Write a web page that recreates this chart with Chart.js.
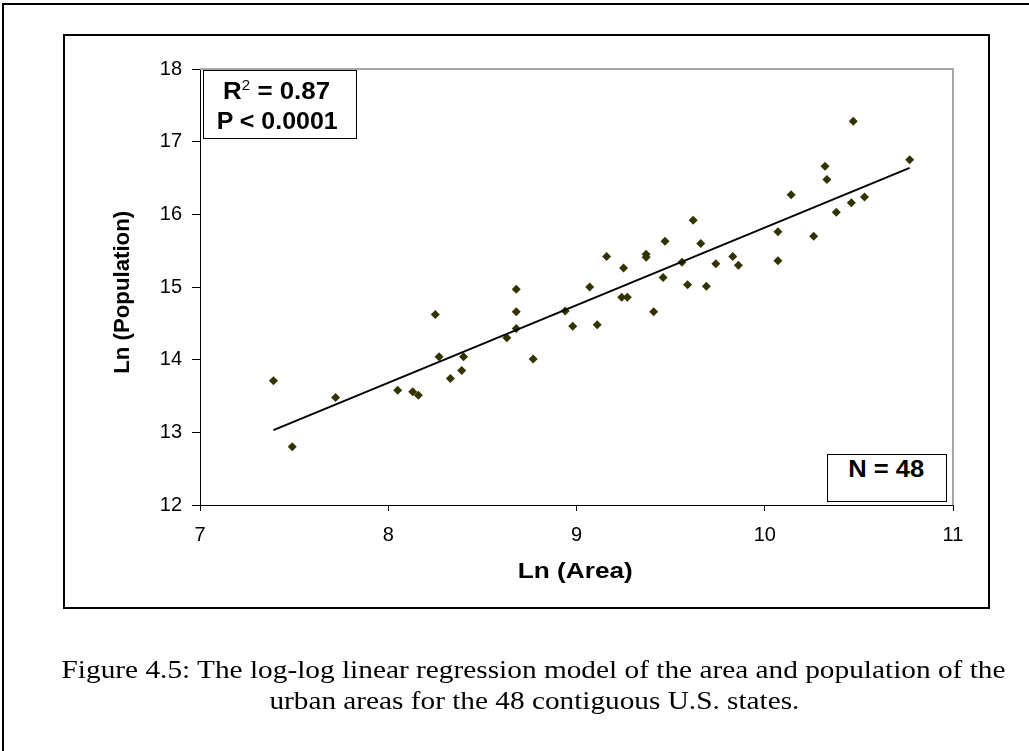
<!DOCTYPE html>
<html>
<head>
<meta charset="utf-8">
<script src="https://cdn.jsdelivr.net/npm/chart.js@4.4.0/dist/chart.umd.min.js"></script>
<style>
  html, body { margin: 0; padding: 0; background: #fff; width: 1029px; height: 751px; overflow: hidden; }
  #page { position: relative; width: 1029px; height: 751px; }
  #outer { position: absolute; left: 2px; top: 3px; width: 1100px; height: 800px; border: 2px solid #000; box-sizing: border-box; }
  #frame { position: absolute; left: 63px; top: 34px; width: 927px; height: 575px; border: 2px solid #000; box-sizing: border-box; }
  canvas { position: absolute; left: 0; top: 0; }
  .lbl { position: absolute; width: 700px; text-align: center; white-space: nowrap; color: #000; }
  .lbl span { display: inline-block; transform-origin: 50% 50%; }
  .sans { font-family: "Liberation Sans", Arial, sans-serif; font-weight: bold; }
  .serif { font-family: "Liberation Serif", "Times New Roman", serif; font-size: 26px; line-height: 26px; }
  .box { position: absolute; background: #fff; border: 1px solid #000; box-sizing: border-box; }
  sup { font-size: 14px; font-weight: normal; vertical-align: 0; position: relative; top: -9px; }
</style>
</head>
<body>
<div id="page">
  <div id="outer"></div>
  <div id="frame"></div>
  <canvas id="chart" width="1029" height="751"></canvas>

  <div class="box" style="left:203px; top:70px; width:154px; height:69px;"></div>
  <div class="box" style="left:827px; top:454px; width:120px; height:48px;"></div>

  <div class="lbl sans" data-cx="277" data-w="107" style="top:79px; font-size:24px; line-height:24px;"><span>R<sup>2</sup> = 0.87</span></div>
  <div class="lbl sans" data-cx="277.5" data-w="121" style="top:109px; font-size:24px; line-height:24px;"><span>P &lt; 0.0001</span></div>
  <div class="lbl sans" data-cx="886" data-w="76" style="top:458px; font-size:23px; line-height:23px;"><span>N = 48</span></div>

  <div class="lbl sans" data-cx="575.5" data-w="115" style="top:560px; font-size:22px; line-height:22px;"><span>Ln (Area)</span></div>
  <div class="lbl sans" data-cx="122" data-w="163" data-rot="1" style="top:281px; font-size:22px; line-height:22px;"><span>Ln (Population)</span></div>

  <div class="lbl serif" data-cx="534" data-w="944" style="top:657px; width:1000px;"><span>Figure 4.5: The log-log linear regression model of the area and population of the</span></div>
  <div class="lbl serif" data-cx="534" data-w="530" style="top:688px; width:1000px;"><span>urban areas for the 48 contiguous U.S. states.</span></div>
</div>

<script>
// ln(area) and ln(population) of the urban areas, one pair per state
const areaLn = [
  7.39, 7.49, 7.72, 8.05, 8.13, 8.16, 8.25, 8.27, 8.33, 8.39,
  8.40, 8.63, 8.68, 8.68, 8.68, 8.77, 8.94, 8.98, 9.07, 9.11,
  9.16, 9.24, 9.25, 9.27, 9.37, 9.37, 9.41, 9.46, 9.47, 9.56,
  9.59, 9.62, 9.66, 9.69, 9.74, 9.83, 9.86, 10.07, 10.07, 10.14,
  10.26, 10.32, 10.33, 10.38, 10.46, 10.47, 10.53, 10.77
];
const popLn = [
  13.71, 12.80, 13.48, 13.58, 13.56, 13.51, 14.62, 14.04, 13.74, 13.85,
  14.04, 14.30, 14.97, 14.66, 14.43, 14.01, 14.67, 14.46, 15.00, 14.48,
  15.42, 14.86, 15.26, 14.86, 15.45, 15.41, 14.66, 15.13, 15.63, 15.34,
  15.03, 15.92, 15.60, 15.01, 15.32, 15.42, 15.30, 15.76, 15.36, 16.27,
  15.70, 16.66, 16.48, 16.03, 16.16, 17.28, 16.24, 16.75
];

// fitted regression line, end points
const trendX = [7.39, 10.77];
const trendY = [13.03, 16.64];

const xRange = [7, 11];
const yRange = [12, 18];

Chart.defaults.font.family = '"Liberation Sans", Arial, sans-serif';
Chart.defaults.color = '#000';

// gray top and right edges of the plot area, like the Excel plot frame
const plotFrame = {
  id: 'plotFrame',
  beforeDatasetsDraw(chart) {
    const { ctx, chartArea: a } = chart;
    ctx.save();
    ctx.strokeStyle = '#a6a6a6';
    ctx.lineWidth = 2;
    ctx.beginPath();
    ctx.moveTo(a.left, a.top);
    ctx.lineTo(a.right, a.top);
    ctx.lineTo(a.right, a.bottom);
    ctx.stroke();
    ctx.restore();
  }
};

new Chart(document.getElementById('chart'), {
  type: 'scatter',
  data: {
    datasets: [
      {
        label: 'States',
        data: areaLn.map((x, i) => ({ x: x, y: popLn[i] })),
        pointStyle: 'rectRot',
        pointRadius: 4.5,
        backgroundColor: '#333300',
        borderColor: '#333300',
        borderWidth: 0,
        order: 2
      },
      {
        label: 'Trend',
        data: trendX.map((x, i) => ({ x: x, y: trendY[i] })),
        showLine: true,
        borderColor: '#000',
        borderWidth: 2,
        pointRadius: 0,
        fill: false,
        order: 1
      }
    ]
  },
  options: {
    responsive: false,
    animation: false,
    layout: { autoPadding: false, padding: { left: 0, right: 76, top: 69, bottom: 0 } },
    plugins: { legend: { display: false }, tooltip: { enabled: false } },
    scales: {
      x: {
        type: 'linear',
        min: xRange[0],
        max: xRange[1],
        ticks: { stepSize: 1, font: { size: 20 }, padding: 12, color: '#000' },
        grid: { drawOnChartArea: false, tickLength: 6, tickColor: '#000', tickWidth: 1 },
        border: { color: '#000', width: 1 },
        afterFit: (s) => { s.height = 246; }
      },
      y: {
        type: 'linear',
        min: yRange[0],
        max: yRange[1],
        ticks: { stepSize: 1, font: { size: 20 }, padding: 10, color: '#000' },
        grid: { drawOnChartArea: false, tickLength: 8, tickColor: '#000', tickWidth: 1 },
        border: { color: '#000', width: 1 },
        afterFit: (s) => { s.width = 200; }
      }
    }
  },
  plugins: [plotFrame]
});

// place the html labels: centre them and stretch them to the measured widths
document.querySelectorAll('.lbl').forEach((el) => {
  const span = el.querySelector('span');
  const w = parseFloat(el.dataset.w);
  const cx = parseFloat(el.dataset.cx);
  const k = w / span.getBoundingClientRect().width;
  span.style.transform = 'scaleX(' + k + ')';
  const boxW = el.getBoundingClientRect().width;
  el.style.left = (cx - boxW / 2) + 'px';
  if (el.dataset.rot) {
    el.style.transform = 'rotate(-90deg)';
  }
});
</script>
</body>
</html>
